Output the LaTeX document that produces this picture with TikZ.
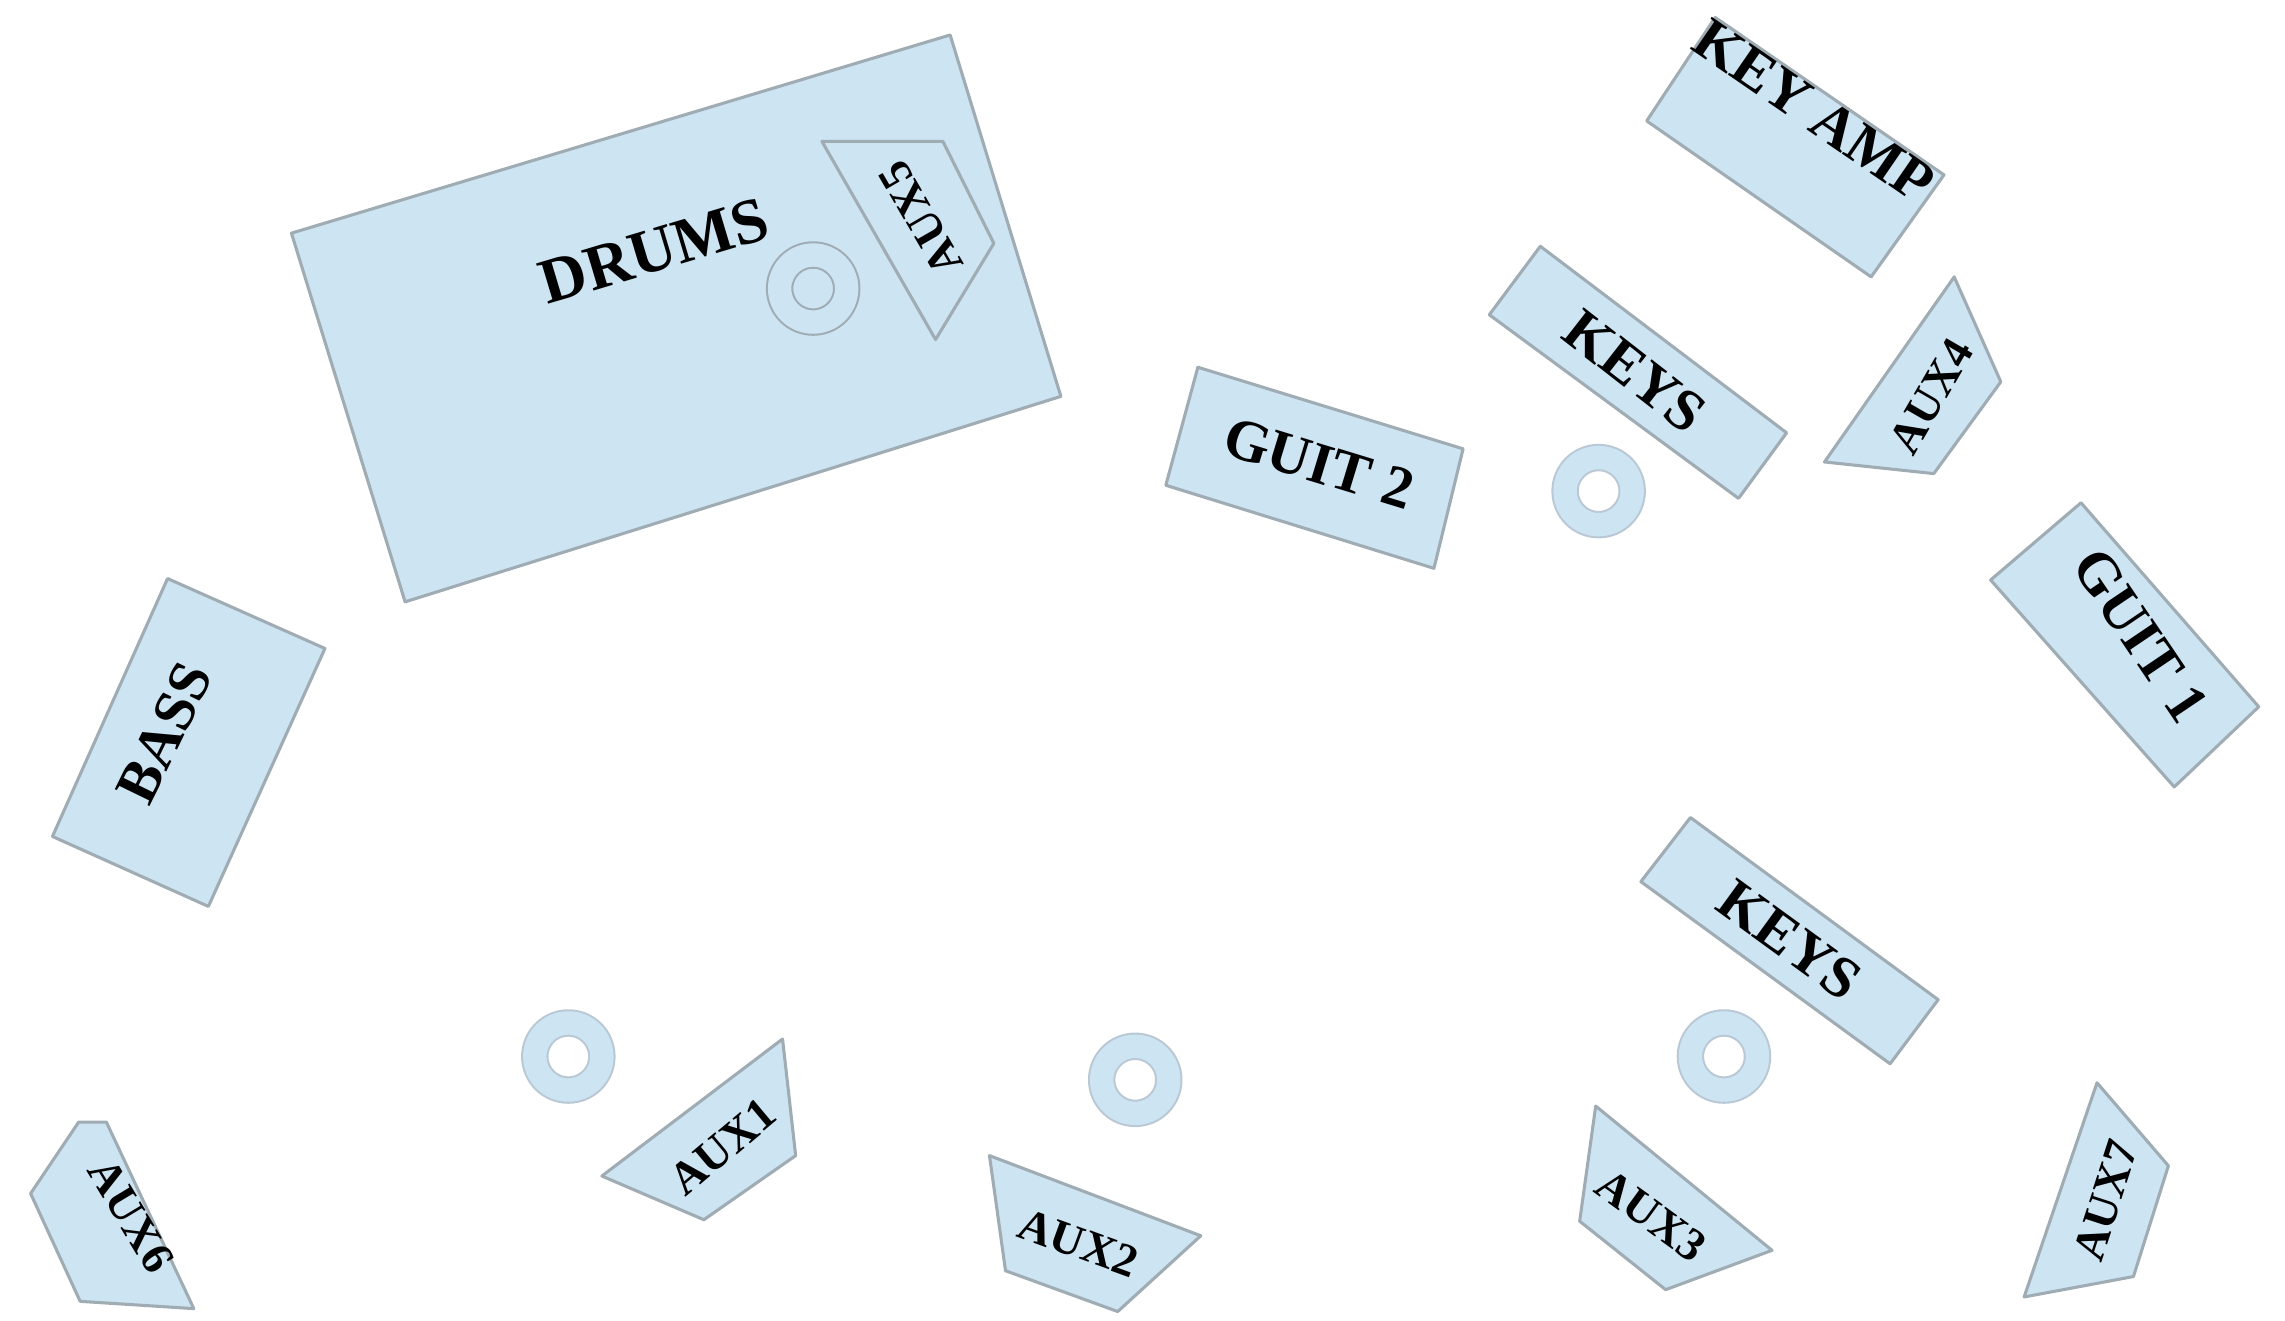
\documentclass[tikz,border=0pt]{standalone}
\usepackage{fontspec}
\setmainfont{Liberation Serif}
\definecolor{stageblue}{RGB}{205,228,242}
\definecolor{edgegrey}{RGB}{160,172,180}
\definecolor{ringgrey}{RGB}{185,200,212}

\begin{document}
\begin{tikzpicture}[x=0.01cm,y=-0.01cm,
    gear/.style={fill=stageblue,draw=edgegrey,line width=0.6pt,line join=round},
    mic/.style={circle,draw=ringgrey,double=stageblue,double distance=0.16cm,line width=0.4pt,minimum size=0.46cm,inner sep=0pt},
    tag/.style={font=\bfseries\fontsize{11.5}{12}\selectfont,inner sep=0pt},
    auxtag/.style={font=\bfseries\fontsize{9}{10}\selectfont,inner sep=0pt}]
    \useasboundingbox (0,0) rectangle (1568,906);

    % drum riser with its wedge and mic
    \draw[gear] (200,160) -- (652,24) -- (728,272) -- (278,413) -- cycle;
    \node[tag,font=\bfseries\fontsize{12.5}{13}\selectfont,rotate=16.7] (drums) at (449,172) {DRUMS};
    \draw[gear] (564,97) -- (647,97) -- (682,167) -- (642,233) -- cycle;
    \node[auxtag,rotate=120] (aux5) at (632,150) {AUX5};
    \node[mic,draw=edgegrey] (drummic) at (558,198) {};

    % bass
    \draw[gear] (115,397) -- (223,445) -- (143,622) -- (36,574) -- cycle;
    \node[tag,rotate=64] (bass) at (113,503) {BASS};

    % guitars and keys
    \draw[gear] (822,252) -- (1004,308) -- (984,390) -- (800,333) -- cycle;
    \node[tag,rotate=-17] (guit2) at (905,318) {GUIT 2};
    \draw[gear] (1057,169) -- (1226,297) -- (1193,342) -- (1022,216) -- cycle;
    \node[tag,rotate=-38] (keysup) at (1122,255) {KEYS};
    \draw[gear] (1177,12) -- (1334,120) -- (1284,190) -- (1130,83) -- cycle;
    \node[tag,rotate=-34.5] (keyamp) at (1245,76) {KEY AMP};
    \draw[gear] (1428,345) -- (1550,485) -- (1492,540) -- (1366,398) -- cycle;
    \node[tag,rotate=-56] (guit1) at (1469,436) {GUIT 1};
    \draw[gear] (1160,561) -- (1330,686) -- (1297,730) -- (1126,605) -- cycle;
    \node[tag,rotate=-36] (keyslow) at (1228,645) {KEYS};

    % wedges
    \draw[gear] (1341,190) -- (1373,262) -- (1327,325) -- (1252,317) -- cycle;
    \node[auxtag,rotate=60] (aux4) at (1325,272) {AUX4};
    \draw[gear] (537,713) -- (546,793) -- (483,837) -- (413,807) -- cycle;
    \node[auxtag,rotate=40] (aux1) at (496,787) {AUX1};
    \draw[gear] (679,793) -- (824,848) -- (767,900) -- (690,872) -- cycle;
    \node[auxtag,rotate=-20] (aux2) at (740,853) {AUX2};
    \draw[gear] (1095,759) -- (1216,858) -- (1143,885) -- (1084,838) -- cycle;
    \node[auxtag,rotate=-36] (aux3) at (1133,834) {AUX3};
    \draw[gear] (1439,743) -- (1488,800) -- (1464,876) -- (1389,890) -- cycle;
    \node[auxtag,rotate=72] (aux7) at (1445,824) {AUX7};
    \draw[gear] (54,770) -- (73,770) -- (133,898) -- (55,893) -- (21,819) -- cycle;
    \node[auxtag,rotate=-59] (aux6) at (90,834) {AUX6};

    % mic stands
    \node[mic] (mic1) at (390,725) {};
    \node[mic] (mic2) at (779,741) {};
    \node[mic] (mic3) at (1183,725) {};
    \node[mic] (mic4) at (1097,337) {};
\end{tikzpicture}
\end{document}
